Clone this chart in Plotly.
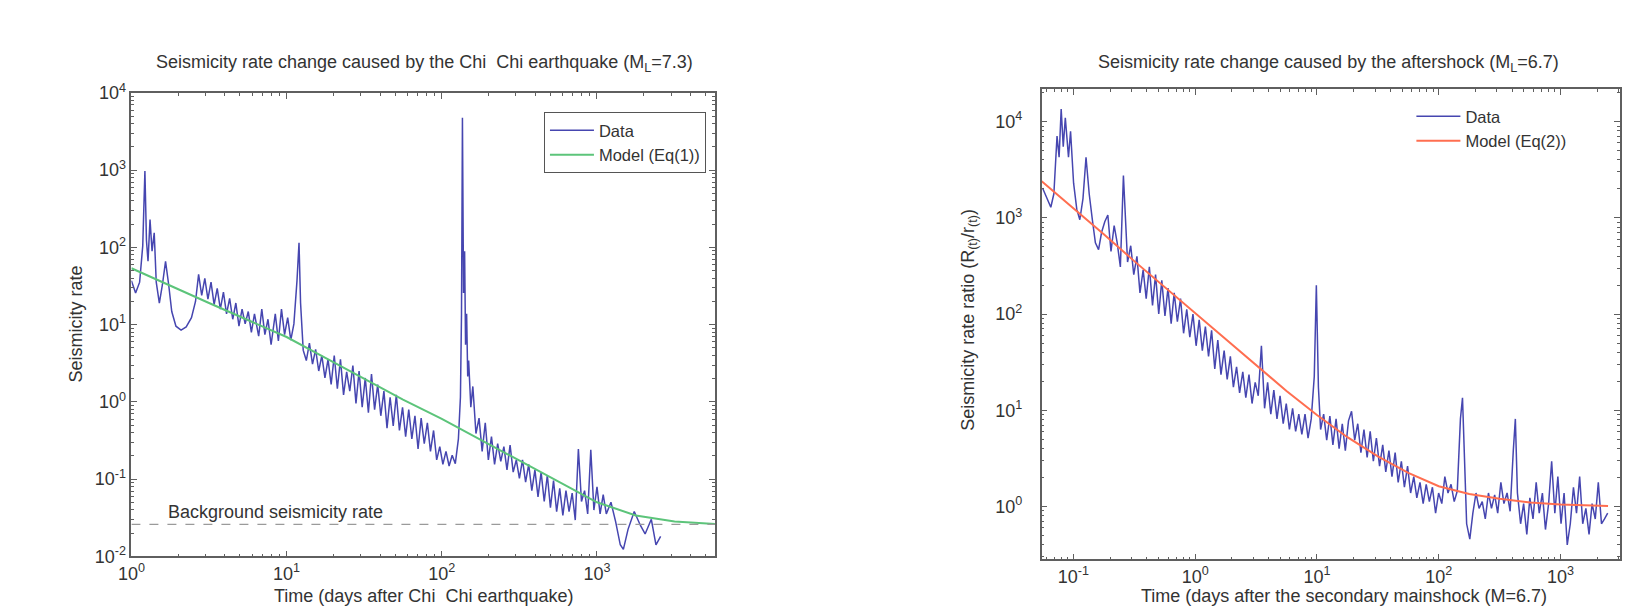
import numpy as np
import plotly.graph_objects as go

# ---------------- data (stored as log10 values) ----------------
chichi_days_log10 = [0.000, 0.027, 0.053, 0.073, 0.087, 0.097, 0.107, 0.120, 0.133, 0.147, 0.160, 0.180,
    0.200, 0.220, 0.240, 0.260, 0.287, 0.320, 0.353, 0.387, 0.413, 0.433, 0.453, 0.473, 0.493,
    0.513, 0.533, 0.553, 0.573, 0.593, 0.613, 0.633, 0.653, 0.673, 0.693, 0.713, 0.733, 0.753,
    0.773, 0.793, 0.820, 0.840, 0.860, 0.880, 0.900, 0.927, 0.947, 0.967, 0.987, 1.007, 1.027,
    1.047, 1.067, 1.080, 1.090, 1.107, 1.127, 1.147, 1.167, 1.187, 1.207, 1.227, 1.247, 1.267,
    1.287, 1.307, 1.327, 1.347, 1.367, 1.387, 1.407, 1.427, 1.447, 1.467, 1.487, 1.507, 1.527,
    1.547, 1.567, 1.587, 1.607, 1.627, 1.647, 1.667, 1.687, 1.707, 1.727, 1.747, 1.767, 1.787,
    1.807, 1.827, 1.847, 1.867, 1.887, 1.907, 1.927, 1.947, 1.967, 1.987, 2.007, 2.027, 2.047,
    2.067, 2.087, 2.107, 2.120, 2.127, 2.133, 2.140, 2.147, 2.153, 2.160, 2.167, 2.173, 2.187,
    2.200, 2.220, 2.240, 2.260, 2.280, 2.300, 2.320, 2.340, 2.360, 2.380, 2.400, 2.420, 2.440,
    2.460, 2.480, 2.500, 2.520, 2.540, 2.560, 2.580, 2.600, 2.620, 2.640, 2.660, 2.680, 2.700,
    2.720, 2.740, 2.760, 2.780, 2.800, 2.820, 2.840, 2.860, 2.880, 2.900, 2.920, 2.940, 2.960,
    2.980, 3.000, 3.020, 3.040, 3.060, 3.090, 3.120, 3.150, 3.170, 3.200, 3.240, 3.280, 3.310,
    3.350, 3.380, 3.410]
chichi_rate_log10 = [1.57, 1.41, 1.55, 2.02, 2.99, 2.09, 1.82, 2.36, 1.95, 2.19, 1.55, 1.28,
    1.52, 1.82, 1.52, 1.17, 0.98, 0.93, 0.97, 1.09, 1.30, 1.65, 1.38, 1.60, 1.33,
    1.55, 1.26, 1.47, 1.20, 1.42, 1.14, 1.34, 1.07, 1.28, 0.98, 1.20, 1.01, 1.17,
    0.90, 1.14, 0.85, 1.20, 0.87, 1.07, 0.74, 1.14, 0.79, 1.20, 0.87, 1.09, 0.80,
    1.01, 1.57, 2.06, 1.28, 0.67, 0.535, 0.76, 0.49, 0.68, 0.40, 0.60, 0.31, 0.55,
    0.225, 0.60, 0.17, 0.55, 0.09, 0.39, 0.14, 0.47, -0.02, 0.40, -0.07, 0.31, -0.14,
    0.36, -0.10, 0.225, -0.18, 0.14, -0.34, 0.06, -0.31, 0.09, -0.37, -0.07, -0.45, -0.10,
    -0.48, -0.18, -0.61, -0.21, -0.54, -0.27, -0.64, -0.37, -0.75, -0.58, -0.81, -0.64, -0.83,
    -0.69, -0.80, -0.48, 0.06, 1.14, 3.68, 1.41, 1.95, 0.74, 1.14, 0.33, 0.535, -0.07,
    0.20, -0.41, -0.21, -0.64, -0.27, -0.75, -0.45, -0.81, -0.54, -0.77, -0.58, -0.88, -0.56,
    -0.91, -0.75, -0.99, -0.75, -1.04, -0.81, -1.15, -0.88, -1.23, -0.91, -1.29, -0.95, -1.37,
    -1.02, -1.42, -1.12, -1.47, -1.15, -1.42, -1.18, -1.53, -0.61, -1.29, -1.15, -1.45, -0.62,
    -1.40, -1.10, -1.45, -1.20, -1.45, -1.30, -1.55, -1.85, -1.91, -1.65, -1.42, -1.60, -1.71,
    -1.52, -1.85, -1.74]
chichi_model_days_log10 = [0.0, 0.25, 0.5, 0.75, 1.0, 1.25, 1.5, 1.75, 2.0, 2.25, 2.5, 2.75,
    3.0, 3.25, 3.5, 3.76]
chichi_model_rate_log10 = [1.73, 1.50, 1.28, 1.06, 0.84, 0.57, 0.30, 0.03, -0.22, -0.49, -0.76,
    -1.03, -1.30, -1.47, -1.55, -1.58]
background_rate = 0.026

after_days_log10 = [-1.253, -1.219, -1.185, -1.160, -1.134, -1.117, -1.100, -1.083, -1.066, -1.040,
    -1.023, -0.998, -0.972, -0.947, -0.921, -0.896, -0.870, -0.844, -0.819, -0.793, -0.768,
    -0.742, -0.717, -0.691, -0.665, -0.640, -0.614, -0.589, -0.572, -0.555, -0.529, -0.504,
    -0.478, -0.453, -0.427, -0.402, -0.376, -0.350, -0.325, -0.299, -0.274, -0.248, -0.223,
    -0.197, -0.172, -0.146, -0.120, -0.095, -0.069, -0.044, -0.018, 0.008, 0.033, 0.059,
    0.084, 0.110, 0.135, 0.161, 0.186, 0.212, 0.238, 0.263, 0.289, 0.314, 0.340, 0.365,
    0.391, 0.416, 0.442, 0.467, 0.493, 0.518, 0.544, 0.570, 0.595, 0.621, 0.646, 0.672,
    0.697, 0.723, 0.748, 0.774, 0.800, 0.825, 0.851, 0.876, 0.902, 0.927, 0.953, 0.978,
    0.995, 1.012, 1.030, 1.055, 1.080, 1.106, 1.131, 1.157, 1.182, 1.208, 1.233, 1.259,
    1.284, 1.310, 1.335, 1.361, 1.386, 1.412, 1.437, 1.463, 1.488, 1.514, 1.540, 1.565,
    1.591, 1.616, 1.642, 1.667, 1.693, 1.718, 1.744, 1.769, 1.795, 1.820, 1.846, 1.872,
    1.897, 1.923, 1.948, 1.974, 1.999, 2.025, 2.050, 2.076, 2.101, 2.127, 2.152, 2.178,
    2.195, 2.212, 2.229, 2.255, 2.280, 2.306, 2.331, 2.357, 2.382, 2.408, 2.433, 2.459,
    2.484, 2.510, 2.535, 2.561, 2.586, 2.612, 2.629, 2.646, 2.672, 2.697, 2.723, 2.748,
    2.774, 2.800, 2.825, 2.851, 2.876, 2.902, 2.927, 2.953, 2.978, 3.004, 3.029, 3.055,
    3.080, 3.106, 3.131, 3.157, 3.182, 3.208, 3.234, 3.259, 3.285, 3.310, 3.336, 3.361, 3.387]
after_ratio_log10 = [3.31, 3.20, 3.11, 3.25, 3.85, 3.63, 4.13, 3.74, 4.04, 3.63,
    3.90, 3.36, 3.09, 2.98, 3.20, 3.63, 3.25, 2.98, 2.74, 2.67, 2.85,
    2.96, 3.03, 2.65, 2.92, 2.74, 2.49, 3.44, 2.98, 2.54, 2.71, 2.41,
    2.60, 2.22, 2.46, 2.16, 2.49, 2.09, 2.41, 2.00, 2.35, 1.98, 2.27,
    1.90, 2.22, 1.92, 2.16, 1.80, 2.05, 1.76, 2.00, 1.67, 1.94, 1.62,
    1.87, 1.56, 1.83, 1.43, 1.73, 1.37, 1.62, 1.32, 1.56, 1.24, 1.45, 1.18,
    1.40, 1.13, 1.37, 1.07, 1.29, 1.15, 1.67, 1.02, 1.29, 0.96, 1.21, 0.91,
    1.15, 0.86, 1.07, 0.80, 1.02, 0.78, 0.96, 0.75, 0.96, 0.71, 0.91, 1.35,
    2.30, 1.24, 0.80, 0.96, 0.69, 0.94, 0.64, 0.91, 0.60, 0.86, 0.58, 0.89,
    0.99, 0.69, 0.86, 0.56, 0.80, 0.51, 0.78, 0.47, 0.71, 0.42, 0.64, 0.36,
    0.58, 0.31, 0.56, 0.25, 0.47, 0.20, 0.42, 0.14, 0.31, 0.09, 0.25, 0.03,
    0.23, 0.05, 0.20, -0.07, 0.14, 0.03, 0.31, 0.14, 0.23, 0.05, 0.16, 0.91,
    1.13, 0.47, -0.18, -0.34, -0.07, 0.14, -0.02, 0.05, -0.13, 0.14, -0.02, 0.12,
    -0.07, 0.25, 0.03, 0.14, -0.05, 0.58, 0.91, 0.14, -0.18, 0.03, -0.29, 0.09,
    -0.13, 0.25, -0.07, 0.14, -0.24, 0.03, 0.47, -0.07, 0.31, -0.18, 0.14, -0.40,
    -0.18, 0.20, -0.07, 0.31, -0.18, -0.02, -0.29, 0.03, -0.13, 0.25, -0.18, -0.13, -0.07]
after_model_days_log10 = [-1.26, -1.0, -0.75, -0.5, -0.25, 0.0, 0.25, 0.5, 0.75, 1.0, 1.25, 1.5,
    1.75, 2.0, 2.25, 2.5, 2.75, 3.0, 3.25, 3.39]
after_model_ratio_log10 = [3.38, 3.10, 2.83, 2.55, 2.28, 2.00, 1.73, 1.46, 1.20, 0.95, 0.72, 0.52,
    0.35, 0.21, 0.13, 0.08, 0.04, 0.02, 0.01, 0.005]

left_x_ticks = [1, 10, 100, 1000]
left_x_text = ["10<sup>0</sup>", "10<sup>1</sup>", "10<sup>2</sup>", "10<sup>3</sup>"]
left_y_ticks = [0.01, 0.1, 1, 10, 100, 1000, 10000]
left_y_text = ["10<sup>-2</sup>", "10<sup>-1</sup>", "10<sup>0</sup>", "10<sup>1</sup>",
               "10<sup>2</sup>", "10<sup>3</sup>", "10<sup>4</sup>"]
right_x_ticks = [0.1, 1, 10, 100, 1000]
right_x_text = ["10<sup>-1</sup>", "10<sup>0</sup>", "10<sup>1</sup>", "10<sup>2</sup>", "10<sup>3</sup>"]
right_y_ticks = [1, 10, 100, 1000, 10000]
right_y_text = ["10<sup>0</sup>", "10<sup>1</sup>", "10<sup>2</sup>", "10<sup>3</sup>", "10<sup>4</sup>"]

# ---------------- styling ----------------
W, H = 1631, 630
FONT = "Liberation Sans, Arial, Helvetica, sans-serif"
FS = 18
LFS = 16.5
TXT = "#333333"
AX = "#5f5f5f"
BLUE = "#4646b0"
GREEN = "#5cc47a"
RED = "#ff6e50"

# mapping from wanted picture position to page position (measured from earlier renders)
def px_x(p):
    return ((p - 11.5) / 0.9922) / W

def px_y(p):
    return 1 - ((p - 11.5) / 0.96) / H

L_BOX = (129, 713, 92, 553)
R_BOX = (1040, 1619, 88, 556)

def minor_vals(lo, hi):
    out = []
    for e in range(lo, hi + 1):
        for m in range(2, 10):
            out.append(m * 10.0 ** e)
    return out

fig = go.Figure()
fig.add_trace(go.Scatter(x=10 ** np.array(chichi_days_log10), y=10 ** np.array(chichi_rate_log10),
                         mode="lines", name="Data", line=dict(color=BLUE, width=1.5),
                         xaxis="x", yaxis="y", legend="legend"))
fig.add_trace(go.Scatter(x=10 ** np.array(chichi_model_days_log10), y=10 ** np.array(chichi_model_rate_log10),
                         mode="lines", name="Model (Eq(1))", line=dict(color=GREEN, width=2),
                         xaxis="x", yaxis="y", legend="legend"))
fig.add_trace(go.Scatter(x=[1, 10 ** 3.76], y=[background_rate, background_rate], mode="lines",
                         line=dict(color="#9a9a9a", width=1.3, dash="dash"), showlegend=False,
                         xaxis="x", yaxis="y", hoverinfo="skip"))
fig.add_trace(go.Scatter(x=10 ** np.array(after_days_log10), y=10 ** np.array(after_ratio_log10),
                         mode="lines", name="Data", line=dict(color=BLUE, width=1.5),
                         xaxis="x2", yaxis="y2", legend="legend2"))
fig.add_trace(go.Scatter(x=10 ** np.array(after_model_days_log10), y=10 ** np.array(after_model_ratio_log10),
                         mode="lines", name="Model (Eq(2))", line=dict(color=RED, width=2),
                         xaxis="x2", yaxis="y2", legend="legend2"))

def axis(domain, rng, tv, tt, minor, anchor, standoff=None):
    d = dict(type="log", domain=domain, range=rng, anchor=anchor,
             tickmode="array", tickvals=tv, ticktext=tt,
             ticks="inside", ticklen=6, tickwidth=1, tickcolor=AX,
             showline=True, linecolor=AX, linewidth=1.5, mirror="allticks",
             showgrid=False, zeroline=False,
             tickfont=dict(family=FONT, size=FS, color=TXT),
             minor=dict(tickvals=minor, ticks="inside", ticklen=3, tickcolor=AX, showgrid=False))
    if standoff is not None:
        d["ticklabelstandoff"] = standoff
    return d

fig.update_layout(
    width=W, height=H, autosize=False,
    margin=dict(l=0, r=0, t=0, b=0),
    paper_bgcolor="white", plot_bgcolor="white",
    font=dict(family=FONT, size=FS, color=TXT),
    xaxis=axis([px_x(L_BOX[0]), px_x(L_BOX[1])], [0, 3.76], left_x_ticks, left_x_text,
               minor_vals(0, 3), "y"),
    yaxis=axis([px_y(L_BOX[3]), px_y(L_BOX[2])], [-2, 4], left_y_ticks, left_y_text,
               minor_vals(-2, 3), "x"),
    xaxis2=axis([px_x(R_BOX[0]), px_x(R_BOX[1])], [-1.26, 3.49], right_x_ticks, right_x_text,
                minor_vals(-2, 3), "y2"),
    yaxis2=axis([px_y(R_BOX[3]), px_y(R_BOX[2])], [-0.55, 4.34], right_y_ticks, right_y_text,
                minor_vals(-1, 4), "x2", standoff=14),
    legend=dict(x=px_x(704), y=px_y(111), xanchor="right", yanchor="top",
                bgcolor="white", bordercolor="#555555", borderwidth=1, itemwidth=44,
                font=dict(family=FONT, size=LFS, color=TXT), tracegroupgap=0),
    legend2=dict(x=px_x(1410), y=px_y(98), xanchor="left", yanchor="top",
                 bgcolor="rgba(0,0,0,0)", borderwidth=0, itemwidth=44,
                 font=dict(family=FONT, size=LFS, color=TXT), tracegroupgap=0),
    showlegend=True,
)

ann = [
    dict(text="Seismicity rate change caused by the Chi  Chi earthquake (M<sub>L</sub>=7.3)",
         x=px_x(422), y=px_y(63)),
    dict(text="Seismicity rate change caused by the aftershock (M<sub>L</sub>=6.7)",
         x=px_x(1327), y=px_y(63)),
    dict(text="Time (days after Chi  Chi earthquake)", x=px_x(421), y=px_y(592)),
    dict(text="Time (days after the secondary mainshock (M=6.7)", x=px_x(1343), y=px_y(592)),
    dict(text="Seismicity rate", x=px_x(74), y=px_y(322), textangle=-90),
    dict(text="Seismicity rate ratio (R<sub>(t)</sub>/r<sub>(t)</sub>)", x=px_x(967), y=px_y(318),
         textangle=-90),
    dict(text="Background seismicity rate", x=px_x(164), y=px_y(509), xanchor="left"),
]
for a in ann:
    base = dict(xref="paper", yref="paper", showarrow=False, xanchor="center", yanchor="middle",
                font=dict(family=FONT, size=FS, color=TXT))
    base.update(a)
    fig.add_annotation(**base)

fig.write_html("out.html", include_plotlyjs=True, config={"displayModeBar": False},
               post_script="document.body.style.margin='0px';document.body.style.overflow='hidden';"
                           "document.documentElement.style.overflow='hidden';")
